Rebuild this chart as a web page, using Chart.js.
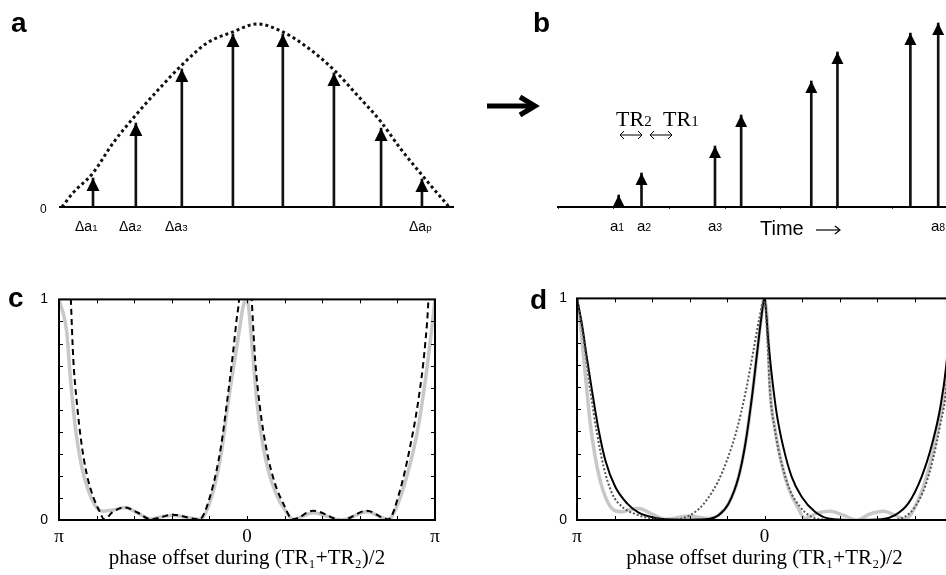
<!DOCTYPE html>
<html>
<head>
<meta charset="utf-8">
<script src="https://cdn.jsdelivr.net/npm/chart.js@4"></script>
<style>
  html, body { margin: 0; padding: 0; background: #fff; overflow: hidden; }
  #fig { position: relative; width: 946px; height: 575px; overflow: hidden;
         font-family: "Liberation Sans", Arial, sans-serif; color: #000; }
  canvas { position: absolute; }
  .t { position: absolute; line-height: 1; white-space: nowrap; }
  .panel { font-weight: bold; font-size: 28px; }
  .serif { font-family: "Liberation Serif", "Times New Roman", serif; }
  .s { font-size: 70%; }
  svg { position: absolute; left: 0; top: 0; }
</style>
</head>
<body>
<div id="fig">
  <canvas id="chartA" width="470" height="240" style="left:0;top:0"></canvas>
  <canvas id="chartB" width="476" height="240" style="left:470px;top:0"></canvas>
  <canvas id="chartC" width="470" height="295" style="left:0;top:280px"></canvas>
  <canvas id="chartD" width="500" height="295" style="left:470px;top:280px"></canvas>

  <!-- panel a -->
  <div class="t panel" style="left:11px;top:9px">a</div>
  <div class="t" style="left:40px;top:203px;font-size:12px">0</div>
  <div class="t" style="left:75px;top:219px;font-size:14px">Δa<span class="s">1</span></div>
  <div class="t" style="left:119px;top:219px;font-size:14px">Δa<span class="s">2</span></div>
  <div class="t" style="left:165px;top:219px;font-size:14px">Δa<span class="s">3</span></div>
  <div class="t" style="left:409px;top:219px;font-size:14px">Δa<span class="s">p</span></div>

  <!-- panel b -->
  <div class="t panel" style="left:533px;top:9px">b</div>
  <div class="t serif" style="left:616px;top:108px;font-size:22px">TR<span style="font-size:15px">2</span></div>
  <div class="t serif" style="left:663px;top:108px;font-size:22px">TR<span style="font-size:15px">1</span></div>
  <div class="t" style="left:610px;top:218px;font-size:15px">a<span class="s">1</span></div>
  <div class="t" style="left:637px;top:218px;font-size:15px">a<span class="s">2</span></div>
  <div class="t" style="left:708px;top:218px;font-size:15px">a<span class="s">3</span></div>
  <div class="t" style="left:931px;top:218px;font-size:15px">a<span class="s">8</span></div>
  <div class="t" style="left:760px;top:218px;font-size:20px">Time</div>

  <!-- panels c, d -->
  <div class="t panel" style="left:8px;top:284px">c</div>
  <div class="t panel" style="left:530px;top:286px">d</div>

  <svg width="946" height="575">
    <g stroke="#000" fill="none">
      <line x1="487" y1="106" x2="532" y2="106" stroke-width="5"/>
      <polyline points="520,97 535,106 520,115" stroke-width="5"/>
      <line x1="620" y1="135" x2="642" y2="135" stroke-width="1"/>
      <polyline points="624,131 620,135 624,139" stroke-width="1"/>
      <polyline points="638,131 642,135 638,139" stroke-width="1"/>
      <line x1="650" y1="135" x2="672" y2="135" stroke-width="1"/>
      <polyline points="654,131 650,135 654,139" stroke-width="1"/>
      <polyline points="668,131 672,135 668,139" stroke-width="1"/>
      <line x1="816" y1="230" x2="840" y2="230" stroke-width="1.2"/>
      <polyline points="835,226 840,230 835,234" stroke-width="1.2"/>
    </g>
  </svg>
</div>

<script>
// a: flip-angle increments and their smooth envelope (x in arbitrary units 0-100)
const aPulseX = [8.4, 19.3, 31.0, 44.0, 56.7, 69.7, 81.7, 92.1];
const aPulseY = [0.155, 0.449, 0.738, 0.925, 0.925, 0.717, 0.422, 0.150];
const aEnvX = [0.5, 3.3, 8.4, 13.5, 19.3, 25.4, 31.0, 37.4, 44.0, 50.1, 56.7, 62.8, 69.7, 75.6, 81.7, 86.5, 92.1, 99.0];
const aEnvY = [0, 0.075, 0.182, 0.342, 0.492, 0.636, 0.759, 0.877, 0.936, 0.979, 0.936, 0.856, 0.733, 0.599, 0.455, 0.316, 0.171, 0];

// b: pulse train on a time axis (units of the small tick spacing)
const bPulseX = [1.09, 1.50, 2.82, 3.29, 4.55, 5.02, 6.33, 6.83];
const bPulseY = [0.064, 0.182, 0.326, 0.492, 0.674, 0.829, 0.930, 0.984];

// c, d: response vs phase offset (x in units of pi)
const cIdealX = [-1, -0.959, -0.941, -0.915, -0.879, -0.844, -0.809, -0.764, -0.711, -0.649, -0.578, -0.516, -0.454, -0.392, -0.312, -0.25,
  -0.188, -0.135, -0.099, -0.064, -0.037, -0.02, 0, 0.025, 0.052, 0.078, 0.113, 0.158, 0.202, 0.246, 0.353, 0.504, 0.637, 0.752, 0.796,
  0.849, 0.904, 0.94, 0.975, 1];
const cIdealY = [1, 0.853, 0.66, 0.434, 0.24, 0.135, 0.067, 0.04, 0.045, 0.057, 0.03, 0.005, 0.015, 0.022, 0.01, 0.003,
  0.105, 0.314, 0.54, 0.733, 0.88, 0.97, 1, 0.81, 0.54, 0.374, 0.225, 0.112, 0.045, 0.003, 0.033, 0, 0.037, 0.003, 0.06,
  0.195, 0.39, 0.58, 0.81, 1];
const cDashX = [-0.96, -0.937, -0.924, -0.906, -0.88, -0.853, -0.818, -0.783, -0.76, -0.713, -0.651, -0.58, -0.513, -0.395, -0.254,
  -0.192, -0.139, -0.104, -0.078, -0.055, -0.042, -0.01, 0.025, 0.043, 0.069, 0.105, 0.149, 0.193, 0.243, 0.353, 0.504, 0.637, 0.752,
  0.814, 0.867, 0.911, 0.947, 0.965, 0.985];
const cDashY = [1.5, 1.0, 0.73, 0.54, 0.344, 0.21, 0.105, 0.037, 0.003, 0.037, 0.057, 0.033, 0.003, 0.024, 0.003,
  0.12, 0.33, 0.55, 0.73, 0.91, 1.0, 1.5, 1.0, 0.73, 0.51, 0.314, 0.165, 0.075, 0.003, 0.042, 0, 0.042, 0.003,
  0.135, 0.33, 0.54, 0.79, 1.0, 1.5];

const dIdealX = [-1, -0.982, -0.956, -0.929, -0.893, -0.849, -0.804, -0.76, -0.724, -0.671, -0.6, -0.529, -0.404, -0.3, -0.25,
  -0.191, -0.138, -0.102, -0.067, -0.04, -0.019, 0, 0.02, 0.029, 0.056, 0.09, 0.13, 0.175, 0.216, 0.278, 0.349, 0.42, 0.492,
  0.563, 0.634, 0.696, 0.749, 0.82, 0.874, 0.918, 0.963, 1];
const dIdealY = [1, 0.88, 0.66, 0.434, 0.24, 0.105, 0.045, 0.037, 0.045, 0.052, 0.027, 0.003, 0.018, 0.007, 0.02,
  0.075, 0.195, 0.344, 0.554, 0.75, 0.9, 1, 0.82, 0.6, 0.41, 0.26, 0.14, 0.06, 0.007, 0.03, 0.039, 0.022, 0,
  0.027, 0.039, 0.022, 0.003, 0.09, 0.225, 0.39, 0.6, 1];
const dSolidX = [-1, -0.973, -0.947, -0.92, -0.884, -0.849, -0.796, -0.733, -0.671, -0.582, -0.458, -0.316, -0.244, -0.191, -0.138,
  -0.102, -0.067, -0.04, -0.019, 0, 0.02, 0.038, 0.065, 0.1, 0.145, 0.198, 0.269, 0.34, 0.5, 0.625, 0.696, 0.767, 0.838, 0.894,
  0.938, 0.97, 1];
const dSolidY = [1, 0.88, 0.73, 0.584, 0.404, 0.27, 0.15, 0.075, 0.033, 0.009, 0.0015, 0.003, 0.022, 0.075, 0.195,
  0.344, 0.554, 0.75, 0.9, 1, 0.81, 0.66, 0.48, 0.33, 0.195, 0.105, 0.037, 0.007, 0, 0.003, 0.022, 0.075, 0.195, 0.344,
  0.51, 0.70, 1];
const dDotX = [-1, -0.964, -0.929, -0.893, -0.858, -0.813, -0.76, -0.689, -0.6, -0.5, -0.45, -0.4, -0.35, -0.3, -0.25, -0.2,
  -0.15, -0.1, -0.06, -0.03, 0, 0.015, 0.029, 0.056, 0.092, 0.136, 0.189, 0.243, 0.305, 0.5, 0.66, 0.749, 0.803, 0.856, 0.9,
  0.938, 0.968, 1];
const dDotY = [1, 0.81, 0.584, 0.39, 0.24, 0.12, 0.06, 0.027, 0.006, 0.0015, 0.005, 0.02, 0.05, 0.10, 0.17, 0.27,
  0.40, 0.58, 0.76, 0.9, 1, 0.82, 0.584, 0.404, 0.254, 0.135, 0.06, 0.018, 0.003, 0, 0, 0.015, 0.06, 0.15, 0.28,
  0.434, 0.584, 1];

const phaseTickValues = [-1, 0, 1];
const phaseTickText = ['π', '0', 'π'];
const levelTickValues = [0, 1];
const levelTickText = ['0', '1'];
const phaseTitle = 'phase offset during (TR₁+TR₂)/2';

const pts = (xs, ys) => xs.map((x, i) => ({ x: x, y: ys[i] }));
const pickLabel = (values, text) => (v) => {
  const i = values.findIndex((p) => Math.abs(p - v) < 1e-6);
  return i < 0 ? '' : text[i];
};

// filled triangle on top of each stem of one dataset
const arrowHeads = {
  id: 'arrowHeads',
  afterDatasetsDraw(chart, args, opts) {
    const ctx = chart.ctx;
    ctx.save();
    ctx.fillStyle = '#000';
    chart.getDatasetMeta(opts.dataset).data.forEach((el) => {
      ctx.beginPath();
      ctx.moveTo(el.x, el.y);
      ctx.lineTo(el.x - opts.width / 2, el.y + opts.height);
      ctx.lineTo(el.x + opts.width / 2, el.y + opts.height);
      ctx.closePath();
      ctx.fill();
    });
    ctx.restore();
  }
};

// box round the plot with inward tick marks
const boxTicks = {
  id: 'boxTicks',
  afterDatasetsDraw(chart, args, opts) {
    const { ctx, chartArea: a, scales: { x, y } } = chart;
    ctx.save();
    ctx.strokeStyle = '#000';
    ctx.lineWidth = 1;
    ctx.beginPath();
    x.ticks.forEach((t) => {
      if (t.value <= x.min + 1e-6 || t.value >= x.max - 1e-6) return;
      const px = Math.round(x.getPixelForValue(t.value)) + 0.5;
      ctx.moveTo(px, a.top); ctx.lineTo(px, a.top + opts.len);
      ctx.moveTo(px, a.bottom); ctx.lineTo(px, a.bottom - opts.len);
    });
    y.ticks.forEach((t) => {
      if (t.value <= y.min + 1e-6 || t.value >= y.max - 1e-6) return;
      const py = Math.round(y.getPixelForValue(t.value)) + 0.5;
      ctx.moveTo(a.left, py); ctx.lineTo(a.left + opts.len, py);
      ctx.moveTo(a.right, py); ctx.lineTo(a.right - opts.len, py);
    });
    ctx.stroke();
    ctx.lineWidth = 2;
    ctx.strokeRect(a.left, a.top, a.right - a.left, a.bottom - a.top);
    ctx.restore();
  }
};

const base = { responsive: false, animation: false, devicePixelRatio: 1 };

function pulseChart(id, xs, ys, env, padding, xMax, tickOpts, head) {
  const datasets = [{ type: 'bar', data: pts(xs, ys), backgroundColor: '#111', barThickness: 2 }];
  if (env) {
    datasets.push({
      type: 'line', data: pts(env[0], env[1]), borderColor: '#111', borderWidth: 3,
      borderDash: [3, 3], borderCapStyle: 'butt', pointRadius: 0, cubicInterpolationMode: 'monotone'
    });
  }
  return new Chart(document.getElementById(id), {
    type: 'bar',
    data: { datasets },
    plugins: [arrowHeads],
    options: Object.assign({}, base, {
      layout: { padding },
      plugins: { legend: { display: false }, tooltip: { enabled: false }, arrowHeads: head },
      scales: {
        x: {
          type: 'linear', min: 0, max: xMax, offset: false,
          grid: tickOpts,
          ticks: { display: false, stepSize: 1 },
          border: { display: true, color: '#000', width: 2 },
          afterFit: (s) => { s.height = 0; }
        },
        y: { display: false, min: 0, max: 1 }
      }
    })
  });
}

pulseChart('chartA', aPulseX, aPulseY, [aEnvX, aEnvY], { left: 60, right: 17, top: 20, bottom: 33 }, 100,
  { display: false, drawTicks: false }, { dataset: 0, width: 13, height: 13 });
pulseChart('chartB', bPulseX, bPulseY, null, { left: 88, right: 0, top: 20, bottom: 33 }, 6.97,
  { display: true, drawOnChartArea: false, drawTicks: true, tickLength: 2, color: '#444', lineWidth: 1, offset: false },
  { dataset: 0, width: 12, height: 12 });

function phaseChart(id, datasets, yWidth, rightPad, yPad) {
  return new Chart(document.getElementById(id), {
    type: 'line',
    data: { datasets },
    plugins: [boxTicks],
    options: Object.assign({}, base, {
      layout: { padding: { top: 17, right: rightPad, bottom: 0, left: 0 } },
      plugins: { legend: { display: false }, tooltip: { enabled: false }, boxTicks: { len: 4 } },
      elements: { point: { radius: 0 }, line: { cubicInterpolationMode: 'monotone' } },
      scales: {
        x: {
          type: 'linear', min: -1, max: 1,
          grid: { display: false, drawTicks: false },
          border: { display: false },
          ticks: {
            stepSize: 0.2, autoSkip: false, maxRotation: 0, padding: 6, color: '#000',
            font: { family: 'Liberation Serif', size: 19 },
            callback: pickLabel(phaseTickValues, phaseTickText)
          },
          title: {
            display: true, text: phaseTitle, color: '#000',
            font: { family: 'Liberation Serif', size: 21 }, padding: { top: 0, bottom: 4 }
          },
          afterFit: (s) => { s.height = 55; }
        },
        y: {
          min: 0, max: 1,
          grid: { display: false, drawTicks: false },
          border: { display: false },
          ticks: {
            stepSize: 0.1, autoSkip: false, padding: yPad, color: '#000',
            font: { family: 'Liberation Sans', size: 14 },
            callback: pickLabel(levelTickValues, levelTickText)
          },
          afterFit: (s) => { s.width = yWidth; }
        }
      }
    })
  });
}

// higher order is drawn first, so the light grey curve sits underneath
phaseChart('chartC', [
  { data: pts(cIdealX, cIdealY), borderColor: '#c8c8c8', borderWidth: 3.5, order: 3 },
  { data: pts(cDashX, cDashY), borderColor: '#000', borderWidth: 2, borderDash: [6, 4], clip: 0, order: 1 }
], 59, 35, 11);

phaseChart('chartD', [
  { data: pts(dIdealX, dIdealY), borderColor: '#c8c8c8', borderWidth: 3.5, order: 3 },
  { data: pts(dSolidX, dSolidY), borderColor: '#000', borderWidth: 2, order: 2 },
  { data: pts(dDotX, dDotY), borderColor: '#555', borderWidth: 2, borderDash: [2, 2], borderCapStyle: 'butt', order: 1 }
], 107, 18, 10);
</script>
</body>
</html>
